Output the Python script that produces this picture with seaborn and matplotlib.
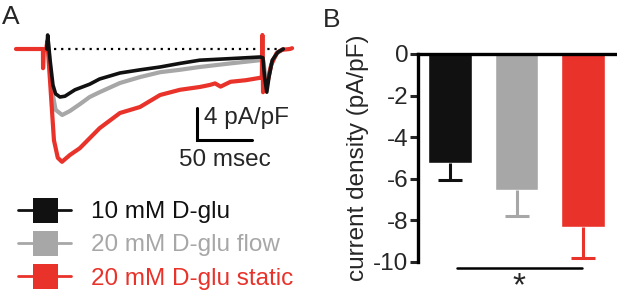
import numpy as np
import pandas as pd
import matplotlib
matplotlib.use("Agg")
import matplotlib.pyplot as plt
from matplotlib.lines import Line2D
import seaborn as sns

# --- data ---
# panel A: current traces (time in ms, current density in pA/pF)
t_red = [0, 24.5, 24.6, 25.2, 27.5, 28.5, 30.9, 34.5, 38, 41.8, 49, 58, 76, 94.5,
         112.7, 131, 149, 167, 176, 181, 186, 195, 209, 222, 223.5, 224, 224.6,
         225.5, 228, 232, 237, 242, 249, 251]
i_red = [0, 0, -2.4, -0.2, 0, 1.0, -3.9, -11.4, -13.6, -14.1, -13.25, -12.4, -9.9, -8.0,
         -7.25, -5.75, -5.1, -4.75, -4.5, -4.3, -4.7, -4.1, -3.9, -3.6, -3.6, 1.75, -5.4,
         -4.9, -4.6, -2.0, -0.5, -0.1, 0, 0.1]
t_black = [28, 28.8, 31, 33.6, 36, 40, 44.5, 53.6, 67, 76, 94.5, 113, 131, 149, 167,
           195, 222, 224.5, 226, 228, 230, 233, 238, 243]
i_black = [0, 1.75, -1.4, -4.5, -5.6, -6.0, -5.9, -5.1, -4.4, -3.75, -3.0, -2.6, -2.25,
           -1.8, -1.4, -1.2, -1.0, -1.1, -3.5, -5.4, -3.5, -1.4, -0.4, 0]
t_gray = [28.5, 29, 32.7, 36, 42, 49, 58, 67, 76, 94.5, 113, 131, 149, 167, 195, 222,
          225, 227, 229, 233, 238, 243]
i_gray = [0, 1.0, -5.1, -7.6, -8.25, -7.75, -6.9, -6.0, -5.4, -4.25, -3.5, -2.9, -2.6,
          -2.25, -1.8, -1.4, -1.5, -4.0, -3.6, -1.5, -0.4, 0]
baseline_t = [35, 243]

# panel B: mean current density and SEM
conditions = ["10 mM D-glu", "20 mM D-glu flow", "20 mM D-glu static"]
means = [-5.25, -6.55, -8.3]
sems = [0.8, 1.25, 1.5]

COLORS = ["#111111", "#a7a7a7", "#e8322a"]
FS = 17.5

sns.set_style("white")
plt.rcParams["font.family"] = ["Liberation Sans", "DejaVu Sans"]

fig = plt.figure(figsize=(6.17, 3.05), dpi=100)

# --- Panel A: traces ---
axA = fig.add_axes([10 / 617, 1 - 175 / 305, 290 / 617, 150 / 305])
axA.set_xlim(-5.45, 258.2)
axA.set_ylim(-15.75, 3.0)
axA.axis("off")
axA.plot(baseline_t, [0, 0], color="black", lw=1.6, ls=(0, (1, 2.2)))
sns.lineplot(x=t_gray, y=i_gray, ax=axA, color=COLORS[1], lw=3, sort=False, estimator=None)
sns.lineplot(x=t_red, y=i_red, ax=axA, color=COLORS[2], lw=3, sort=False, estimator=None)
sns.lineplot(x=t_black, y=i_black, ax=axA, color=COLORS[0], lw=2.6, sort=False, estimator=None)

# scale bar: 4 pA/pF, 50 msec
sb_t, sb_i = 164.5, -11.4
axA.plot([sb_t, sb_t, sb_t + 50], [sb_i + 4, sb_i, sb_i], color="black", lw=2.2,
         solid_joinstyle="miter")
axA.text(sb_t + 6, sb_i + 2.8, "4 pA/pF", fontsize=FS, va="center", ha="left")
axA.text(sb_t + 25, sb_i - 2.5, "50 msec", fontsize=FS, va="center", ha="center")

fig.text(0.003, 0.985, "A", fontsize=19, va="top", ha="left")
fig.text(323 / 617, 0.975, "B", fontsize=19, va="top", ha="left")

# legend
handles = [Line2D([], [], color=c, lw=2, marker="s", markersize=18, markeredgewidth=0)
           for c in COLORS]
leg = fig.legend(handles, conditions, loc="upper left", bbox_to_anchor=(18 / 617, 1 - 201 / 305),
                 frameon=False, fontsize=FS, handlelength=2.2, handletextpad=0.8,
                 labelspacing=0.47, borderpad=0, borderaxespad=0)
for txt, c in zip(leg.get_texts(), COLORS):
    txt.set_color(c)

# --- Panel B: bar chart ---
axB = fig.add_axes([418 / 617, 1 - 262 / 305, 199 / 617, 208 / 305])
df = pd.DataFrame({"condition": conditions, "density": means})
sns.barplot(data=df, x="condition", y="density", hue="condition", palette=COLORS,
            width=0.66, errorbar=None, legend=False, ax=axB, saturation=1)
# one-sided (downward) SEM bars
for k in range(len(conditions)):
    _, caps, _ = axB.errorbar(k, means[k], yerr=[[sems[k]], [0]], color=COLORS[k], lw=2.2,
                              capsize=8.5, capthick=2.2, clip_on=False)
    for cap in caps:
        if np.isclose(cap.get_ydata()[0], means[k]):
            cap.set_visible(False)
axB.set_xlim(-0.48, 2.51)
axB.set_ylim(-10, 0)
axB.set_yticks([0, -2, -4, -6, -8, -10])
axB.set_yticklabels(["0", "-2", "-4", "-6", "-8", "-10"])
axB.set_xticks([])
axB.set_xlabel("")
axB.set_ylabel("current density (pA/pF)", fontsize=FS, labelpad=3)
axB.tick_params(axis="y", labelsize=FS, length=6, width=2.2, pad=1, direction="out", left=True)
for side in ["bottom", "right"]:
    axB.spines[side].set_visible(False)
for side in ["left", "top"]:
    axB.spines[side].set_linewidth(2.4)
    axB.spines[side].set_color("black")

# significance bar
axB.plot([0.1, 1.98], [-10.29, -10.29], color="black", lw=1.8, clip_on=False)
axB.text(1.04, -10.45, "*", fontsize=24, ha="center", va="top")

fig.savefig("out.png", dpi=100)
